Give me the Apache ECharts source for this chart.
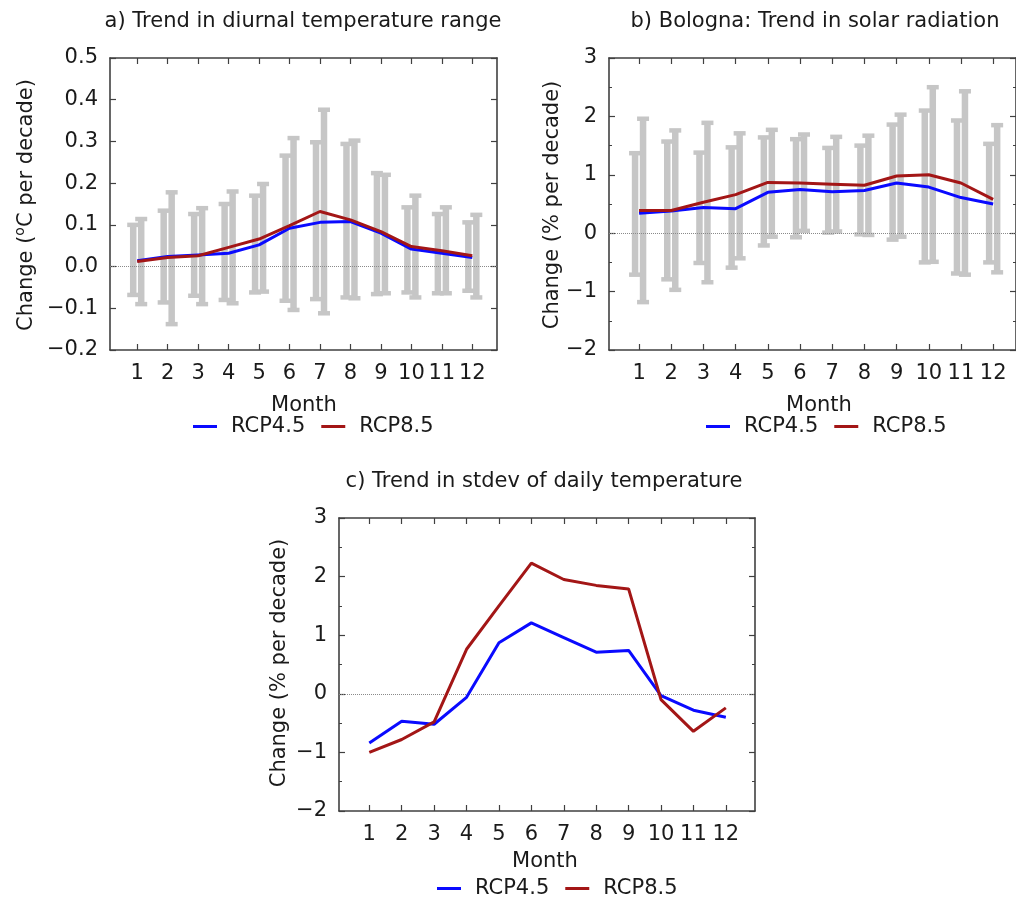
<!DOCTYPE html>
<html>
<head>
<meta charset="utf-8">
<script src="https://cdn.jsdelivr.net/npm/echarts@6/dist/echarts.min.js"></script>
<style>
  html, body { margin: 0; padding: 0; background: #ffffff; }
  #chart { width: 1016px; height: 899px; }
</style>
</head>
<body>
<div id="chart"></div>
<script>
// Months on the x axis
const months = [1, 2, 3, 4, 5, 6, 7, 8, 9, 10, 11, 12];

// a) Trend in diurnal temperature range (°C per decade)
const dtrRcp45 = [0.014, 0.024, 0.028, 0.032, 0.052, 0.092, 0.106, 0.108, 0.080, 0.042, 0.032, 0.022];
const dtrRcp85 = [0.012, 0.022, 0.026, 0.046, 0.066, 0.098, 0.132, 0.112, 0.084, 0.048, 0.038, 0.026];
const dtrLow45  = [-0.068, -0.086, -0.070, -0.080, -0.062, -0.082, -0.078, -0.074, -0.066, -0.062, -0.064, -0.058];
const dtrHigh45 = [0.100, 0.134, 0.126, 0.150, 0.170, 0.266, 0.298, 0.294, 0.224, 0.142, 0.126, 0.106];
const dtrLow85  = [-0.090, -0.138, -0.090, -0.088, -0.060, -0.104, -0.112, -0.076, -0.064, -0.074, -0.064, -0.074];
const dtrHigh85 = [0.114, 0.178, 0.140, 0.180, 0.198, 0.308, 0.376, 0.302, 0.220, 0.170, 0.142, 0.124];

// b) Bologna: Trend in solar radiation (% per decade)
const solarRcp45 = [0.34, 0.38, 0.44, 0.42, 0.70, 0.75, 0.71, 0.73, 0.86, 0.79, 0.61, 0.50];
const solarRcp85 = [0.39, 0.39, 0.53, 0.66, 0.87, 0.86, 0.84, 0.82, 0.98, 1.00, 0.86, 0.58];
const solarLow45  = [-0.71, -0.79, -0.51, -0.59, -0.21, -0.07, 0.01, -0.02, -0.11, -0.50, -0.69, -0.50];
const solarHigh45 = [1.37, 1.57, 1.38, 1.47, 1.64, 1.61, 1.46, 1.50, 1.86, 2.10, 1.93, 1.53];
const solarLow85  = [-1.18, -0.97, -0.84, -0.43, -0.06, 0.04, 0.03, -0.03, -0.06, -0.49, -0.71, -0.67];
const solarHigh85 = [1.96, 1.76, 1.89, 1.71, 1.77, 1.69, 1.65, 1.67, 2.03, 2.50, 2.43, 1.85];

// c) Trend in stdev of daily temperature (% per decade)
const sdRcp45 = [-0.84, -0.47, -0.52, -0.06, 0.87, 1.21, 0.96, 0.71, 0.74, -0.03, -0.28, -0.40];
const sdRcp85 = [-1.00, -0.78, -0.48, 0.76, 1.50, 2.23, 1.95, 1.85, 1.79, -0.10, -0.64, -0.24];

const scenarioNames = ['RCP4.5', 'RCP8.5'];

const FONT = 'DejaVu Sans';
const FS = 21;
const TXT = '#1a1a1a';
const FRAME = '#404040';
const RANGE_GRAY = '#c6c6c6';
const BLUE = '#0a0aff';
const RED = '#a31616';

const minus = s => s.replace('-', '\u2212');

function xAxisPair(gi, min, max) {
  const base = {
    type: 'value', gridIndex: gi, min: min, max: max,
    axisLine: { show: true, onZero: false, lineStyle: { color: FRAME, width: 1.6 } },
    axisTick: { show: true, inside: true, length: 6, customValues: months, lineStyle: { color: FRAME, width: 1.2 } },
    splitLine: { show: false }
  };
  return [
    Object.assign({}, base, {
      position: 'bottom',
      axisLabel: { customValues: months, fontFamily: FONT, fontSize: FS, color: TXT, margin: 13 }
    }),
    Object.assign({}, base, { position: 'top', axisLabel: { show: false } })
  ];
}

function yAxisPair(gi, min, max, interval, decimals, minor) {
  const base = {
    type: 'value', gridIndex: gi, min: min, max: max, interval: interval,
    axisLine: { show: true, onZero: false, lineStyle: { color: FRAME, width: 1.6 } },
    axisTick: { show: true, inside: true, length: 6, lineStyle: { color: FRAME, width: 1.2 } },
    minorTick: { show: minor, splitNumber: 2, length: 3, lineStyle: { color: FRAME, width: 1 } },
    splitLine: { show: false },
    minorSplitLine: { show: false }
  };
  return [
    Object.assign({}, base, {
      position: 'left',
      axisLabel: {
        fontFamily: FONT, fontSize: FS, color: TXT, margin: 12,
        formatter: v => minus(Number(v).toFixed(decimals))
      }
    }),
    Object.assign({}, base, { position: 'right', axisLabel: { show: false } })
  ];
}

// Gray min–max ranges drawn as thick capped bars, shifted left/right of the month
function rangeSeries(gi, lows, highs, dx) {
  return {
    type: 'custom',
    xAxisIndex: 2 * gi, yAxisIndex: 2 * gi,
    silent: true, z: 2,
    encode: { x: 0, y: [1, 2] },
    data: months.map((m, i) => [m, lows[i], highs[i]]),
    renderItem: function (params, api) {
      const top = api.coord([api.value(0), api.value(2)]);
      const bot = api.coord([api.value(0), api.value(1)]);
      const x = top[0] + dx;
      const bw = 6.5, cw = 12, ch = 4.5;
      const fill = { fill: RANGE_GRAY };
      return {
        type: 'group',
        children: [
          { type: 'rect', shape: { x: x - bw / 2, y: top[1], width: bw, height: bot[1] - top[1] }, style: fill },
          { type: 'rect', shape: { x: x - cw / 2, y: top[1] - ch / 2, width: cw, height: ch }, style: fill },
          { type: 'rect', shape: { x: x - cw / 2, y: bot[1] - ch / 2, width: cw, height: ch }, style: fill }
        ]
      };
    }
  };
}

const zeroLine = {
  silent: true, symbol: 'none', label: { show: false },
  lineStyle: { type: 'dotted', color: '#8a8a8a', width: 1 },
  data: [{ yAxis: 0 }]
};

function lineSeries(gi, name, values, color, withZero) {
  const s = {
    type: 'line', name: name,
    xAxisIndex: 2 * gi, yAxisIndex: 2 * gi,
    data: months.map((m, i) => [m, values[i]]),
    symbol: 'none', z: 5,
    lineStyle: { color: color, width: 3 },
    itemStyle: { color: color },
    emphasis: { disabled: true }
  };
  if (withZero) s.markLine = zeroLine;
  return s;
}

function legendAt(left, top) {
  return {
    data: scenarioNames, left: left, top: top,
    orient: 'horizontal', icon: 'rect',
    itemWidth: 24, itemHeight: 3, itemGap: 16,
    textStyle: { fontFamily: FONT, fontSize: FS, color: TXT, padding: [0, 0, 0, 9] }
  };
}

function label(x, y, text) {
  return {
    type: 'text', x: x, y: y, silent: true,
    style: { text: text, fontFamily: FONT, fontSize: FS, fill: TXT, align: 'center', verticalAlign: 'middle' }
  };
}

function yName(x, y, text) {
  return {
    type: 'text', x: x, y: y, rotation: Math.PI / 2, silent: true,
    style: {
      text: text, fontFamily: FONT, fontSize: FS, fill: TXT, align: 'center', verticalAlign: 'middle',
      rich: {
        base: { fontFamily: FONT, fontSize: FS, fill: TXT },
        sup: { fontFamily: FONT, fontSize: 14, fill: TXT, padding: [0, 0, 14, 0] }
      }
    }
  };
}

const option = {
  backgroundColor: '#ffffff',
  animation: false,
  grid: [
    { left: 110, top: 58, width: 387, height: 292 },
    { left: 609, top: 58, width: 410, height: 292 },
    { left: 339, top: 518, width: 416, height: 293 }
  ],
  xAxis: [].concat(
    xAxisPair(0, 0.107, 12.81),
    xAxisPair(1, 0.066, 12.71),
    xAxisPair(2, 0.065, 12.9)
  ),
  yAxis: [].concat(
    yAxisPair(0, -0.2, 0.5, 0.1, 1, false),
    yAxisPair(1, -2, 3, 1, 0, true),
    yAxisPair(2, -2, 3, 1, 0, true)
  ),
  legend: [legendAt(188, 411), legendAt(701, 411), legendAt(432, 873)],
  series: [
    Object.assign(rangeSeries(0, dtrLow45, dtrHigh45, -4), { markLine: zeroLine }),
    rangeSeries(0, dtrLow85, dtrHigh85, 4),
    lineSeries(0, scenarioNames[0], dtrRcp45, BLUE),
    lineSeries(0, scenarioNames[1], dtrRcp85, RED),

    Object.assign(rangeSeries(1, solarLow45, solarHigh45, -4), { markLine: zeroLine }),
    rangeSeries(1, solarLow85, solarHigh85, 4),
    lineSeries(1, scenarioNames[0], solarRcp45, BLUE),
    lineSeries(1, scenarioNames[1], solarRcp85, RED),

    lineSeries(2, scenarioNames[0], sdRcp45, BLUE, true),
    lineSeries(2, scenarioNames[1], sdRcp85, RED)
  ],
  graphic: [
    label(303, 22, 'a) Trend in diurnal temperature range'),
    label(815, 22, 'b) Bologna: Trend in solar radiation'),
    label(544, 482, 'c) Trend in stdev of daily temperature'),
    label(304, 406, 'Month'),
    label(819, 406, 'Month'),
    label(545, 862, 'Month'),
    yName(27, 205, '{base|Change (}{sup|o}{base|C per decade)}'),
    yName(553, 205, 'Change (% per decade)'),
    yName(280, 663, 'Change (% per decade)')
  ]
};

const chart = echarts.init(document.getElementById('chart'), null, { renderer: 'canvas' });
chart.setOption(option);
</script>
</body>
</html>
